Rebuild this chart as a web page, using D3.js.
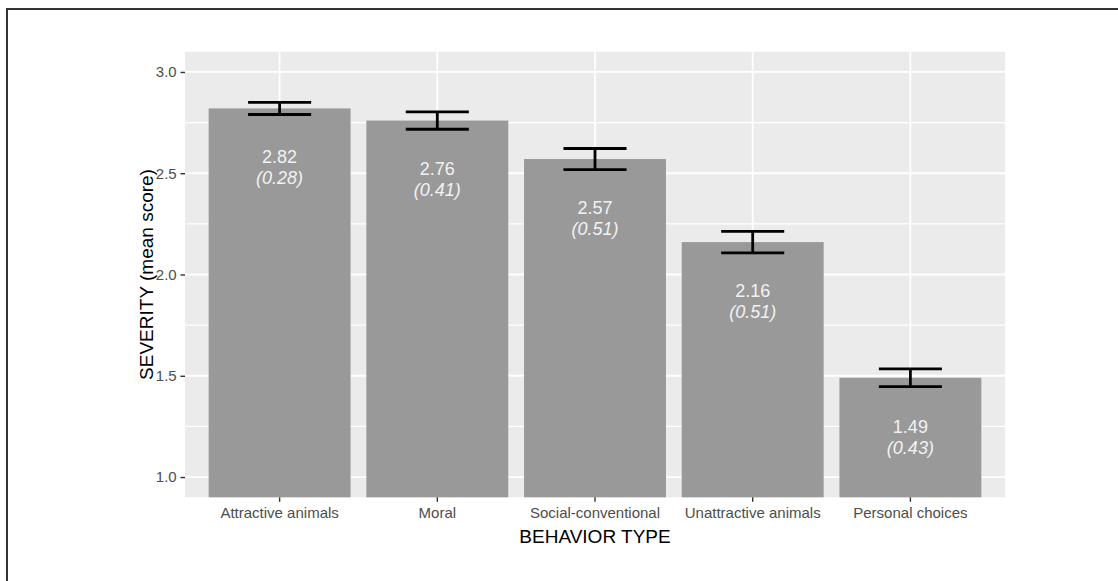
<!DOCTYPE html>
<html><head><meta charset="utf-8">
<script src="https://cdn.jsdelivr.net/npm/d3@7"></script>
<style>
body{margin:0;background:#fff;}
svg{display:block;font-family:"Liberation Sans",Arial,Helvetica,sans-serif;}
</style>
</head><body>
<svg id="chart" width="1118" height="581"></svg>
<script>
// ---- data ----
const categories = ["Attractive animals", "Moral", "Social-conventional", "Unattractive animals", "Personal choices"];
const means = [2.82, 2.76, 2.57, 2.16, 1.49];
const sds = [0.28, 0.41, 0.51, 0.51, 0.43];
const errMargins = [0.030, 0.043, 0.052, 0.053, 0.044];
const yTicks = [1.0, 1.5, 2.0, 2.5, 3.0];
const yMinorTicks = [1.25, 1.75, 2.25, 2.75];
const yDomain = [0.9, 3.1];
const xTitle = "BEHAVIOR TYPE";
const yTitle = "SEVERITY (mean score)";

const svg = d3.select("#chart");
const W = 1118, H = 581;
const panel = {left: 185, right: 1005, top: 51.7, bottom: 497.3};

// outer frame (top and left edges visible)
svg.append("line").attr("x1", 7).attr("x2", W).attr("y1", 9).attr("y2", 9)
  .attr("stroke", "#333").attr("stroke-width", 2);
svg.append("line").attr("x1", 7).attr("x2", 7).attr("y1", 8).attr("y2", H)
  .attr("stroke", "#333").attr("stroke-width", 2);

const x = d3.scaleBand().domain(categories)
  .range([panel.left, panel.right]).paddingInner(0.1).paddingOuter(0.15);
const y = d3.scaleLinear().domain(yDomain).range([panel.bottom, panel.top]);

// panel background
svg.append("rect").attr("x", panel.left).attr("y", panel.top)
  .attr("width", panel.right - panel.left).attr("height", panel.bottom - panel.top)
  .attr("fill", "#EBEBEB");

const grid = svg.append("g");
grid.selectAll(".minor").data(yMinorTicks).join("line")
  .attr("x1", panel.left).attr("x2", panel.right)
  .attr("y1", d => y(d)).attr("y2", d => y(d))
  .attr("stroke", "#fff").attr("stroke-width", 1.2);
grid.selectAll(".major").data(yTicks).join("line")
  .attr("x1", panel.left).attr("x2", panel.right)
  .attr("y1", d => y(d)).attr("y2", d => y(d))
  .attr("stroke", "#fff").attr("stroke-width", 1.8);
grid.selectAll(".vmajor").data(categories).join("line")
  .attr("x1", d => x(d) + x.bandwidth() / 2).attr("x2", d => x(d) + x.bandwidth() / 2)
  .attr("y1", panel.top).attr("y2", panel.bottom)
  .attr("stroke", "#fff").attr("stroke-width", 1.8);

const rows = categories.map((c, i) => ({c, m: means[i], sd: sds[i], e: errMargins[i]}));

// bars
svg.append("g").selectAll("rect").data(rows).join("rect")
  .attr("x", d => x(d.c)).attr("width", x.bandwidth())
  .attr("y", d => y(d.m)).attr("height", d => y(yDomain[0]) - y(d.m))
  .attr("fill", "#999999");

// error bars
const ew = x.step() * 0.4;
const eb = svg.append("g").attr("stroke", "#000").attr("stroke-width", 2.8).attr("fill", "none");
rows.forEach(d => {
  const cx = x(d.c) + x.bandwidth() / 2;
  const g = eb.append("g");
  g.append("line").attr("x1", cx - ew / 2).attr("x2", cx + ew / 2)
    .attr("y1", y(d.m + d.e)).attr("y2", y(d.m + d.e));
  g.append("line").attr("x1", cx - ew / 2).attr("x2", cx + ew / 2)
    .attr("y1", y(d.m - d.e)).attr("y2", y(d.m - d.e));
  g.append("line").attr("x1", cx).attr("x2", cx)
    .attr("y1", y(d.m + d.e)).attr("y2", y(d.m - d.e));
});

// value labels
const lab = svg.append("g").attr("fill", "#F2F2F2").attr("font-size", 18).attr("text-anchor", "middle");
rows.forEach(d => {
  const cx = x(d.c) + x.bandwidth() / 2;
  lab.append("text").attr("x", cx).attr("y", y(d.m) + 54.8).text(d.m.toFixed(2));
  lab.append("text").attr("x", cx).attr("y", y(d.m) + 75.8)
    .attr("font-style", "italic").text("(" + d.sd.toFixed(2) + ")");
});

// axes
const yAxis = svg.append("g").attr("transform", `translate(${panel.left},0)`)
  .call(d3.axisLeft(y).tickValues(yTicks).tickFormat(d3.format(".1f")).tickSize(4.5).tickPadding(3.8));
yAxis.select(".domain").remove();
yAxis.selectAll(".tick line").attr("stroke", "#333").attr("stroke-width", 1.4);
yAxis.selectAll(".tick text").attr("fill", "#4D4D4D").attr("font-size", 15)
  .attr("font-family", "Liberation Sans, Arial, sans-serif");

const xAxis = svg.append("g").attr("transform", `translate(0,${panel.bottom})`)
  .call(d3.axisBottom(x).tickSize(4.5).tickPadding(5.8));
xAxis.select(".domain").remove();
xAxis.selectAll(".tick line").attr("stroke", "#333").attr("stroke-width", 1.4);
xAxis.selectAll(".tick text").attr("fill", "#4D4D4D").attr("font-size", 15)
  .attr("font-family", "Liberation Sans, Arial, sans-serif");

// titles
svg.append("text").attr("x", (panel.left + panel.right) / 2).attr("y", 543.3)
  .attr("text-anchor", "middle").attr("font-size", 19).attr("fill", "#000").text(xTitle);
svg.append("text").attr("transform", `translate(153.3,${(panel.top + panel.bottom) / 2}) rotate(-90)`)
  .attr("text-anchor", "middle").attr("font-size", 19).attr("fill", "#000").text(yTitle);
</script>
</body></html>
